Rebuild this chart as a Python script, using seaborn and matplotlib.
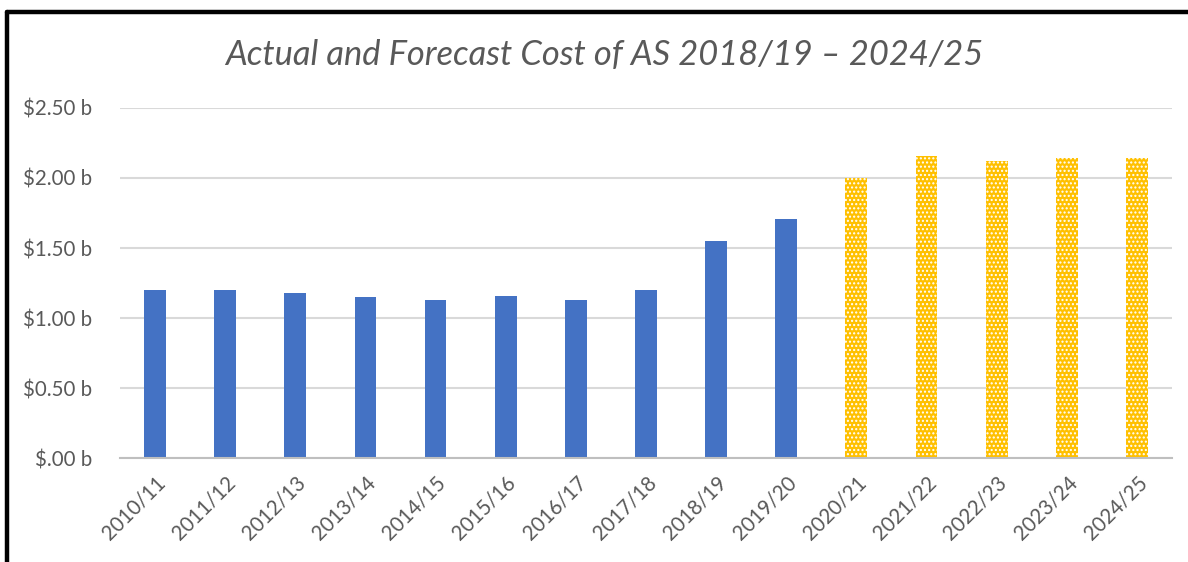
import pandas as pd
import numpy as np
import matplotlib.pyplot as plt
import seaborn as sns
from matplotlib.ticker import FuncFormatter
from matplotlib.lines import Line2D

# Style
sns.set_theme(style="white")
plt.rcParams['font.family'] = ['Lato', 'DejaVu Sans']
plt.rcParams['hatch.color'] = 'white'
plt.rcParams['hatch.linewidth'] = 1.0

# Data (cost in $ billions)
years = ['2010/11', '2011/12', '2012/13', '2013/14', '2014/15', '2015/16', '2016/17',
         '2017/18', '2018/19', '2019/20', '2020/21', '2021/22', '2022/23', '2023/24', '2024/25']
cost = [1.20, 1.20, 1.18, 1.15, 1.13, 1.16, 1.13, 1.20, 1.55, 1.71,
        2.00, 2.16, 2.12, 2.14, 2.14]
kind = ['Actual'] * 10 + ['Forecast'] * 5

df = pd.DataFrame({'Year': years, 'Cost': cost, 'Kind': kind})

text_grey = '#595959'

fig = plt.figure(figsize=(11.88, 5.62), dpi=100)
ax = fig.add_axes([0.101, 0.1845, 0.8855, 0.6235])

sns.barplot(data=df, x='Year', y='Cost', hue='Kind', dodge=False, width=0.31,
            palette={'Actual': '#4472C4', 'Forecast': '#FFC000'},
            saturation=1, legend=False, ax=ax)

# dotted fill for forecast bars
for patch, k in zip(ax.patches, df['Kind']):
    patch.set_linewidth(0)
    if k == 'Forecast':
        patch.set_hatch('....')

ax.set_xlim(-0.5, len(years) - 0.5)
ax.set_ylim(0, 2.5)
ax.set_yticks(np.arange(0, 2.51, 0.5))
ax.yaxis.set_major_formatter(FuncFormatter(
    lambda v, p: '$.00 b' if v == 0 else f'${v:.2f} b'))
ax.grid(axis='y', color='#D9D9D9', linewidth=1.5)
ax.set_axisbelow(True)
for s in ['top', 'right', 'left']:
    ax.spines[s].set_visible(False)
ax.spines['bottom'].set_color('#BFBFBF')
ax.spines['bottom'].set_linewidth(1.5)
ax.tick_params(axis='both', length=0, colors=text_grey, labelsize=14.8)
ax.tick_params(axis='y', pad=20)
ax.tick_params(axis='x', pad=10)
plt.setp(ax.get_xticklabels(), rotation=45, ha='right', rotation_mode='anchor')
ax.set_xlabel('')
ax.set_ylabel('')

fig.text(0.509, 0.903, 'Actual and Forecast Cost of AS 2018/19 \u2013 2024/25',
         ha='center', va='center', fontsize=24.8, style='italic', color=text_grey)

# black frame on top and left
fig.add_artist(Line2D([0.0059, 1.0], [0.9795, 0.9795], color='black', linewidth=3.2))
fig.add_artist(Line2D([0.0059, 0.0059], [0.0, 0.9795], color='black', linewidth=3.2))

plt.savefig('out.png', dpi=100)
